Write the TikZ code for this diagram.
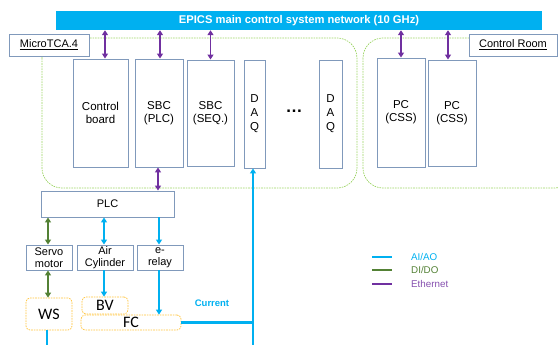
\documentclass[tikz,border=0pt]{standalone}
\usepackage{fontspec}
\setmainfont{Liberation Sans}
\newfontfamily\calib{Carlito}
\usetikzlibrary{arrows.meta,calc}

\definecolor{netcyan}{HTML}{00B0F0}
\definecolor{dioGreen}{HTML}{538135}
\definecolor{ethPurple}{HTML}{7030A0}
\definecolor{boxEdge}{HTML}{8099BB}
\definecolor{zoneGreen}{HTML}{9CD464}
\definecolor{devOrange}{HTML}{FFC33A}

\tikzset{
  x=1pt, y=-1pt,
  unit/.style={draw=boxEdge, line width=0.9pt, fill=white, inner sep=0pt, align=center,
    font=\fontsize{11.5}{13}\selectfont},
  small/.style={unit, font=\fontsize{11}{12.5}\selectfont},
  label/.style={unit, font=\fontsize{11}{13}\selectfont},
  device/.style={draw=devOrange, dash pattern=on 1.6pt off 1pt, line width=0.7pt, rounded corners=4pt,
    inner sep=0pt, font=\calib\fontsize{16}{16}\selectfont},
  zone/.style={draw=zoneGreen, dash pattern=on 1.6pt off 1pt, line width=0.7pt, rounded corners=20pt},
  tip/.style={-{Triangle[width=6pt,length=5pt]}},
  both/.style={{Triangle[width=6pt,length=5pt]}-{Triangle[width=6pt,length=5pt]}},
  eth/.style={ethPurple, line width=1.8pt, both},
  dio/.style={dioGreen, line width=1.8pt, both},
  aio/.style={netcyan, line width=1.6pt},
}

\begin{document}
\begin{tikzpicture}
\useasboundingbox (0,0) rectangle (558,345);

% dashed zones: MicroTCA crate and control room
\draw[zone] (42,38) rectangle (357,188);
\draw[zone] (363,38) rectangle (575,188);

% network bar
\node[fill=netcyan, minimum width=486pt, minimum height=19pt, inner sep=0pt,
      text=white, font=\bfseries\fontsize{11.2}{12}\selectfont] (bar) at (299,20.5)
      {EPICS main control system network (10 GHz)};

% zone titles
\node[label, minimum width=80pt, minimum height=22pt] (mtca) at (49,45) {\underline{MicroTCA.4}};
\node[label, minimum width=88pt, minimum height=22pt] (croom) at (513,45) {\underline{Control Room}};

% MicroTCA cards
\node[unit, minimum width=55pt, minimum height=108pt] (cb) at (100.5,113) {Control\\board};
\node[unit, minimum width=48pt, minimum height=108pt] (sbc1) at (159,113) {SBC\\(PLC)};
\node[unit, minimum width=47pt, minimum height=106pt] (sbc2) at (210.5,113) {SBC\\(SEQ.)};
\node[unit, minimum width=21pt, minimum height=108pt, font=\fontsize{11.5}{14}\selectfont] (daq1) at (254.5,114) {D\\A\\Q};
\node[font=\bfseries\fontsize{17}{17}\selectfont] (dots) at (294,111) {…};
\node[unit, minimum width=23pt, minimum height=108pt, font=\fontsize{11.5}{14}\selectfont] (daq2) at (330.5,114) {D\\A\\Q};

% control room PCs
\node[unit, minimum width=48pt, minimum height=109pt] (pc1) at (401,112.5) {PC\\(CSS)};
\node[unit, minimum width=48pt, minimum height=106pt] (pc2) at (452,113) {PC\\(CSS)};

% PLC and field devices
\node[unit, minimum width=133pt, minimum height=26pt, font=\fontsize{11}{13}\selectfont] (plc) at (107.5,204) {PLC};
\node[small, minimum width=46pt, minimum height=25pt] (servo) at (49,257.5) {Servo\\motor};
\node[small, minimum width=56pt, minimum height=25pt] (air) at (105,257.5) {Air\\Cylinder};
\node[small, minimum width=46pt, minimum height=25pt] (relay) at (160,257.5) {e-\\relay};

\node[device, minimum width=46pt, minimum height=32pt] (ws) at (49,314) {WS};
\node[device, minimum width=46pt, minimum height=17pt] (bv) at (105,305.5) {BV};
\node[device, minimum width=100pt, minimum height=15pt] (fc) at (131,322.5) {FC};

% Ethernet links
\draw[eth] ([xshift=4.5]cb.north) -- ([xshift=4.5]cb.north |- bar.south);
\draw[eth] ([xshift=1]sbc1.north) -- ([xshift=1]sbc1.north |- bar.south);
\draw[eth] (sbc2.north) -- (sbc2.north |- bar.south);
\draw[eth] (pc1.north) -- (pc1.north |- bar.south);
\draw[eth] ([xshift=-4]pc2.north) -- ([xshift=-4]pc2.north |- bar.south);
\draw[eth] ([xshift=-1]sbc1.south) -- ([xshift=-1]sbc1.south |- plc.north);

% digital I/O
\draw[dio] ([xshift=-1]servo.north) -- ([xshift=-1]servo.north |- plc.south);
\draw[dio] ([xshift=-1]servo.south) -- ([xshift=-1]servo.south |- ws.north);

% analog I/O
\draw[aio, both] ([xshift=-1]air.north) -- ([xshift=-1]air.north |- plc.south);
\draw[aio, tip] ([xshift=-1]relay.north |- plc.south) -- ([xshift=-1]relay.north);
\draw[aio, tip] ([xshift=-1]air.south) -- ([xshift=-1]air.south |- bv.north);
\draw[aio, tip] ([xshift=-1]relay.south) -- ([xshift=-1]relay.south |- fc.north);

\coordinate (trunkfoot) at ([xshift=-1.5]daq1.south |- 0,345);
\coordinate (wsfoot) at ([xshift=-2]ws.south |- 0,345);
\draw[aio, tip] (trunkfoot) -- ([xshift=-1.5]daq1.south);
\draw[aio] ([xshift=-2]ws.south) -- (wsfoot);
\draw[netcyan, line width=2.4pt] (fc.east) -- (fc.east -| trunkfoot);
\node[text=netcyan, font=\bfseries\fontsize{9.5}{10}\selectfont] (cur) at (212,303) {Current};

% legend
\coordinate (la1) at (372,257); \coordinate (la2) at (392,257);
\coordinate (lb1) at (372,270); \coordinate (lb2) at (392,270);
\coordinate (lc1) at (372,284); \coordinate (lc2) at (392,284);
\draw[netcyan, line width=1.6pt] (la1) -- (la2);
\draw[dioGreen, line width=1.6pt] (lb1) -- (lb2);
\draw[ethPurple, line width=1.6pt] (lc1) -- (lc2);
\node[anchor=west, text=netcyan, font=\fontsize{9.8}{10}\selectfont, inner sep=0pt] (lta) at (411,257) {AI/AO};
\node[anchor=west, text=dioGreen, font=\fontsize{9.8}{10}\selectfont, inner sep=0pt] (ltb) at (411,270) {DI/DO};
\node[anchor=west, text=ethPurple!85, font=\fontsize{9.8}{10}\selectfont, inner sep=0pt] (ltc) at (411,284) {Ethernet};
\end{tikzpicture}
\end{document}
